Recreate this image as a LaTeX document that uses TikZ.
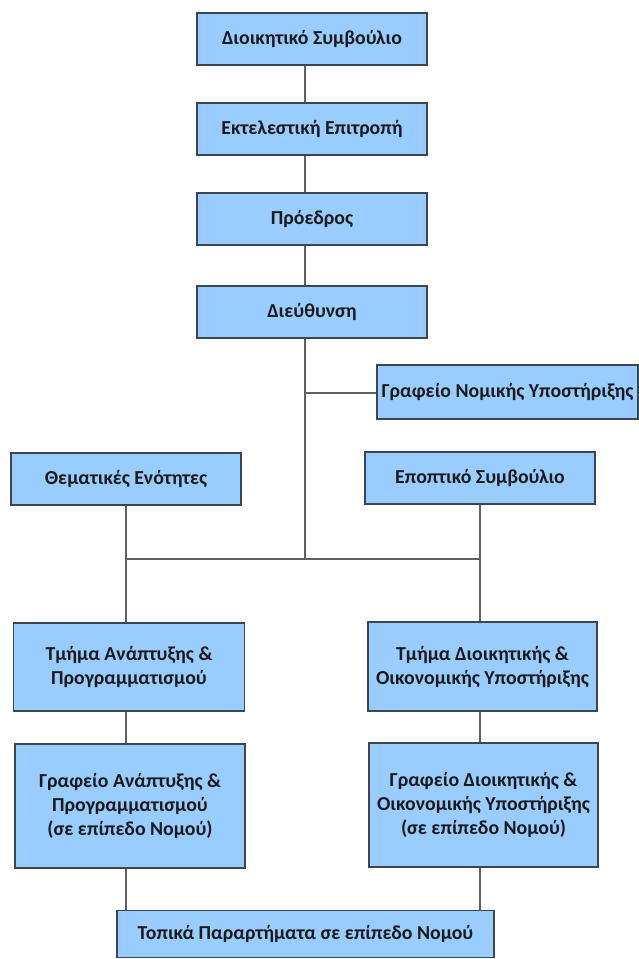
\documentclass[tikz,border=0pt]{standalone}
\usepackage{fontspec}
\setmainfont{Carlito}
\definecolor{boxfill}{HTML}{99CCFF}
\definecolor{boxdraw}{HTML}{3C4650}
\definecolor{linecol}{HTML}{606060}
\definecolor{txt}{HTML}{1A1A1A}
\begin{document}
\begin{tikzpicture}[x=1pt,y=-1pt,
  orgbox/.style={draw=boxdraw,line width=1.3pt,fill=boxfill,rectangle,inner sep=0pt,
    align=center,text=txt,font=\fontsize{19.8}{24}\selectfont\bfseries},
  conn/.style={draw=linecol,line width=1.2pt}]
\useasboundingbox (0,0) rectangle (639,959);
\fill[white] (0,0) rectangle (639,959);
% nodes
\node[orgbox,minimum width=230pt,minimum height=52pt] (b1) at (312,39) {Διοικητικό Συμβούλιο};
\node[orgbox,minimum width=230pt,minimum height=52pt] (b2) at (312,129) {Εκτελεστική Επιτροπή};
\node[orgbox,minimum width=230pt,minimum height=52pt] (b3) at (312,219) {Πρόεδρος};
\node[orgbox,minimum width=230pt,minimum height=52pt] (b4) at (312,312) {Διεύθυνση};
\node[orgbox,minimum width=261pt,minimum height=54pt] (nom) at (507.5,392) {Γραφείο Νομικής Υποστήριξης};
\node[orgbox,minimum width=230pt,minimum height=52pt] (them) at (126,479) {Θεματικές Ενότητες};
\node[orgbox,minimum width=230pt,minimum height=52pt] (epo) at (480,478) {Εποπτικό Συμβούλιο};
\node[orgbox,minimum width=231pt,minimum height=88pt] (tan) at (129,667) {Τμήμα Ανάπτυξης \&\\Προγραμματισμού};
\node[orgbox,minimum width=229pt,minimum height=89pt] (tdi) at (482.5,666.5) {Τμήμα Διοικητικής \&\\Οικονομικής Υποστήριξης};
\node[orgbox,minimum width=230pt,minimum height=124pt] (gan) at (130,806) {Γραφείο Ανάπτυξης \&\\Προγραμματισμού\\(σε επίπεδο Νομού)};
\node[orgbox,minimum width=229pt,minimum height=124pt] (gdi) at (483.5,805) {Γραφείο Διοικητικής \&\\Οικονομικής Υποστήριξης\\(σε επίπεδο Νομού)};
\node[orgbox,minimum width=377pt,minimum height=47pt] (top) at (305.5,934) {Τοπικά Παραρτήματα σε επίπεδο Νομού};
% guide coordinates
\coordinate (sp) at (305,0);
\coordinate (lx) at (126,0);
\coordinate (rx) at (480,0);
\coordinate (bus) at (0,559);
\coordinate (nomy) at (0,393);
% connectors
\draw[conn] (b1.south -| sp) -- (b2.north -| sp);
\draw[conn] (b2.south -| sp) -- (b3.north -| sp);
\draw[conn] (b3.south -| sp) -- (b4.north -| sp);
\draw[conn] (b4.south -| sp) -- (sp |- bus);
\draw[conn] (sp |- nomy) -- (nom.west |- nomy);
\draw[conn] (lx |- bus) -- (rx |- bus);
\draw[conn] (them.south -| lx) -- (tan.north -| lx);
\draw[conn] (epo.south -| rx) -- (tdi.north -| rx);
\draw[conn] (tan.south -| lx) -- (gan.north -| lx);
\draw[conn] (tdi.south -| rx) -- (gdi.north -| rx);
\draw[conn] (gan.south -| lx) -- (top.north -| lx);
\draw[conn] (gdi.south -| rx) -- (top.north -| rx);
\end{tikzpicture}
\end{document}
